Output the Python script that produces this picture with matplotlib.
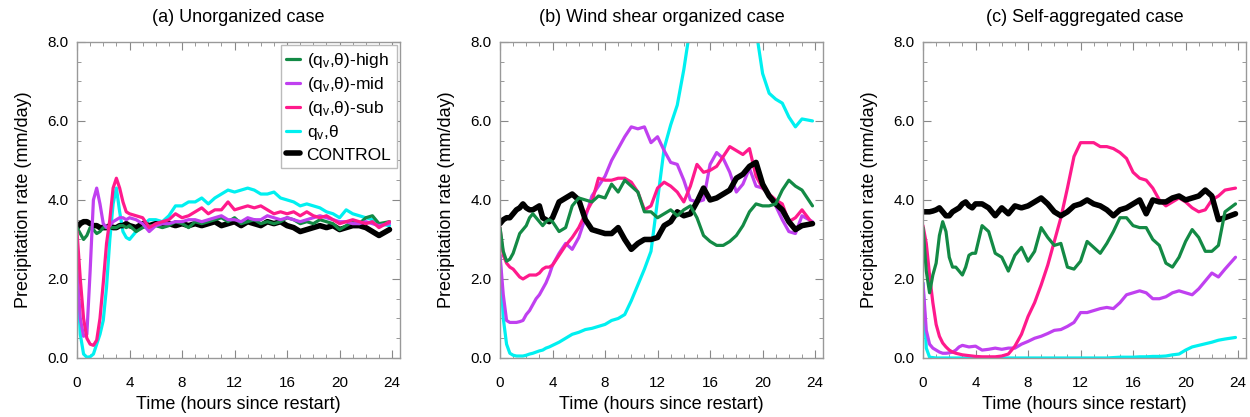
import numpy as np
import matplotlib
matplotlib.use("Agg")
import matplotlib.pyplot as plt
from matplotlib.ticker import MultipleLocator

plt.rcParams["font.family"] = ["Liberation Sans", "DejaVu Sans"]
plt.rcParams["mathtext.default"] = "regular"

# time axis (hours since restart): 15-min steps for the first 4 h, then 30 min
hours = [0.0, 0.25, 0.5, 0.75, 1.0, 1.25, 1.5, 1.75, 2.0, 2.25, 2.5, 2.75,
         3.0, 3.25, 3.5, 3.75, 4.0,
         4.5, 5.0, 5.5, 6.0, 6.5, 7.0, 7.5, 8.0, 8.5, 9.0, 9.5, 10.0, 10.5,
         11.0, 11.5, 12.0, 12.5, 13.0, 13.5, 14.0, 14.5, 15.0, 15.5, 16.0,
         16.5, 17.0, 17.5, 18.0, 18.5, 19.0, 19.5, 20.0, 20.5, 21.0, 21.5,
         22.0, 22.5, 23.0, 23.8]

# (a) unorganized
ctrl_a = [3.30, 3.40, 3.45, 3.45, 3.40, 3.35, 3.35, 3.30, 3.30, 3.30, 3.35,
          3.30, 3.30, 3.35, 3.35, 3.40, 3.35,
          3.30, 3.40, 3.35, 3.40, 3.35, 3.40, 3.35, 3.40, 3.35, 3.40,
          3.35, 3.40, 3.45, 3.35, 3.40, 3.45, 3.35, 3.45, 3.40, 3.35,
          3.45, 3.40, 3.45, 3.35, 3.30, 3.20, 3.25, 3.30, 3.35, 3.30,
          3.35, 3.25, 3.30, 3.35, 3.35, 3.30, 3.20, 3.10, 3.25]
high_a = [3.30, 3.15, 3.00, 3.10, 3.30, 3.25, 3.15, 3.20, 3.30, 3.30, 3.30,
          3.30, 3.30, 3.35, 3.35, 3.30, 3.35,
          3.20, 3.30, 3.35, 3.35, 3.30, 3.35, 3.45, 3.40, 3.30, 3.45,
          3.40, 3.45, 3.50, 3.55, 3.45, 3.55, 3.40, 3.45, 3.50, 3.40,
          3.45, 3.40, 3.45, 3.55, 3.50, 3.40, 3.45, 3.40, 3.50, 3.45,
          3.40, 3.25, 3.35, 3.45, 3.40, 3.55, 3.60, 3.40, 3.45]
mid_a = [2.20, 1.00, 0.55, 0.60, 2.20, 4.00, 4.30, 3.90, 3.40, 3.30, 3.35,
         3.45, 3.50, 3.55, 3.55, 3.50, 3.55,
         3.50, 3.40, 3.20, 3.35, 3.40, 3.40, 3.45, 3.45, 3.50, 3.50,
         3.45, 3.50, 3.55, 3.60, 3.50, 3.50, 3.45, 3.55, 3.50, 3.50,
         3.60, 3.55, 3.50, 3.55, 3.50, 3.45, 3.50, 3.55, 3.60, 3.55,
         3.50, 3.45, 3.45, 3.40, 3.40, 3.45, 3.40, 3.35, 3.40]
sub_a = [3.20, 2.00, 1.00, 0.50, 0.35, 0.32, 0.45, 1.00, 1.90, 2.90, 3.50,
         4.30, 4.55, 4.30, 3.95, 3.70, 3.65,
         3.60, 3.55, 3.30, 3.40, 3.45, 3.50, 3.65, 3.55, 3.60, 3.70,
         3.80, 3.65, 3.75, 3.75, 3.95, 3.75, 3.80, 3.85, 3.80, 3.85,
         3.75, 3.65, 3.70, 3.65, 3.70, 3.60, 3.70, 3.60, 3.55, 3.60,
         3.50, 3.40, 3.45, 3.50, 3.45, 3.40, 3.45, 3.30, 3.45]
full_a = [2.20, 0.60, 0.10, 0.02, 0.03, 0.10, 0.35, 0.60, 0.95, 1.80, 3.00,
          3.90, 4.30, 3.70, 3.20, 3.05, 3.00,
          3.20, 3.35, 3.50, 3.50, 3.45, 3.60, 3.85, 3.85, 3.95, 3.95,
          4.05, 3.90, 4.05, 4.15, 4.25, 4.20, 4.25, 4.30, 4.25, 4.15,
          4.15, 4.20, 4.05, 4.00, 3.95, 3.85, 3.90, 3.85, 3.80, 3.70,
          3.65, 3.55, 3.75, 3.65, 3.60, 3.55, 3.50, 3.40, 3.35]

# (b) wind shear organized
ctrl_b = [3.40, 3.50, 3.55, 3.55, 3.65, 3.75, 3.80, 3.90, 3.80, 3.75, 3.75,
          3.80, 3.85, 3.55, 3.50, 3.45, 3.55,
          3.95, 4.05, 4.15, 4.00, 3.50, 3.25, 3.20, 3.15, 3.15, 3.30,
          3.00, 2.75, 2.90, 3.00, 3.00, 3.05, 3.35, 3.45, 3.70, 3.60,
          3.65, 3.95, 4.30, 4.00, 4.05, 4.15, 4.25, 4.55, 4.65, 4.85,
          4.95, 4.40, 4.10, 3.90, 3.75, 3.45, 3.25, 3.35, 3.40]
high_b = [3.30, 2.70, 2.45, 2.50, 2.65, 2.90, 3.15, 3.25, 3.35, 3.55, 3.65,
          3.55, 3.45, 3.35, 3.45, 3.50, 3.45,
          3.20, 3.30, 3.85, 4.05, 4.00, 3.95, 4.10, 4.05, 4.40, 4.20,
          4.50, 4.35, 4.20, 3.70, 3.70, 3.55, 3.65, 3.75, 3.60, 3.75,
          3.85, 3.55, 3.10, 2.95, 2.85, 2.85, 2.95, 3.10, 3.35, 3.70,
          3.90, 3.85, 3.85, 3.90, 4.25, 4.50, 4.35, 4.25, 3.85]
mid_b = [2.60, 1.60, 0.95, 0.90, 0.90, 0.90, 0.92, 0.95, 1.10, 1.20, 1.35,
         1.50, 1.60, 1.75, 1.90, 2.10, 2.35,
         2.65, 2.90, 2.75, 3.05, 3.55, 4.10, 4.35, 4.60, 5.00, 5.30,
         5.60, 5.85, 5.80, 5.85, 5.45, 5.60, 5.25, 4.95, 4.90, 4.50,
         4.00, 3.95, 4.00, 4.90, 5.20, 5.05, 4.70, 4.20, 4.40, 4.80,
         4.35, 4.30, 4.15, 3.85, 3.50, 3.20, 3.15, 3.60, 3.45]
sub_b = [3.30, 2.60, 2.40, 2.30, 2.25, 2.15, 2.05, 2.00, 2.05, 2.10, 2.10,
         2.10, 2.15, 2.25, 2.30, 2.30, 2.35,
         2.60, 2.85, 3.05, 3.30, 3.65, 3.95, 4.55, 4.50, 4.50, 4.55,
         4.55, 4.45, 4.20, 3.75, 3.85, 4.30, 4.45, 4.35, 4.20, 3.95,
         4.35, 4.90, 4.70, 4.75, 4.85, 5.10, 5.35, 5.25, 5.15, 5.30,
         4.60, 4.30, 4.15, 4.00, 3.90, 3.45, 3.55, 3.75, 3.40]
full_b = [2.60, 1.00, 0.35, 0.12, 0.07, 0.05, 0.05, 0.05, 0.07, 0.10, 0.12,
          0.15, 0.18, 0.20, 0.25, 0.28, 0.32,
          0.40, 0.50, 0.60, 0.65, 0.72, 0.75, 0.80, 0.85, 0.95, 1.00,
          1.10, 1.45, 1.85, 2.25, 2.70, 4.00, 5.30, 5.90, 6.40, 7.30,
          8.40, 9.50, 10.00, 10.20, 10.20, 10.00, 9.80, 9.50, 9.00, 8.60,
          8.30, 7.20, 6.70, 6.55, 6.45, 6.10, 5.85, 6.05, 6.00]

# (c) self-aggregated
ctrl_c = [3.70, 3.70, 3.70, 3.72, 3.75, 3.80, 3.70, 3.60, 3.60, 3.70, 3.75,
          3.80, 3.90, 3.95, 3.85, 3.80, 3.90,
          3.90, 3.80, 3.60, 3.80, 3.65, 3.85, 3.80, 3.85, 3.95, 4.05,
          3.90, 3.70, 3.60, 3.70, 3.85, 3.90, 4.00, 3.90, 3.85, 3.75,
          3.60, 3.75, 3.80, 3.90, 4.00, 3.65, 4.00, 3.95, 3.95, 4.05,
          4.10, 4.00, 4.05, 4.10, 4.25, 4.10, 3.50, 3.55, 3.65]
high_c = [3.30, 2.20, 1.65, 2.10, 2.40, 3.10, 3.45, 3.20, 2.55, 2.30, 2.30,
          2.20, 2.10, 2.30, 2.60, 2.65, 2.65,
          3.35, 3.20, 2.65, 2.55, 2.20, 2.60, 2.80, 2.45, 2.70, 3.30,
          3.05, 2.85, 2.90, 2.30, 2.25, 2.45, 2.95, 2.80, 2.65, 2.90,
          3.20, 3.55, 3.55, 3.35, 3.30, 3.30, 3.00, 2.85, 2.40, 2.30,
          2.55, 2.95, 3.25, 3.05, 2.70, 2.70, 2.85, 3.70, 3.90]
mid_c = [1.90, 0.70, 0.35, 0.25, 0.20, 0.15, 0.12, 0.12, 0.13, 0.15, 0.20,
         0.28, 0.32, 0.30, 0.28, 0.29, 0.30,
         0.20, 0.22, 0.25, 0.22, 0.25, 0.25, 0.35, 0.42, 0.50, 0.55,
         0.62, 0.70, 0.72, 0.80, 0.90, 1.15, 1.15, 1.20, 1.25, 1.28,
         1.25, 1.40, 1.60, 1.65, 1.70, 1.65, 1.50, 1.50, 1.55, 1.65,
         1.70, 1.65, 1.60, 1.75, 1.95, 2.15, 2.05, 2.25, 2.55]
sub_c = [3.35, 2.90, 2.10, 1.40, 0.85, 0.55, 0.38, 0.28, 0.20, 0.15, 0.12,
         0.10, 0.08, 0.07, 0.06, 0.05, 0.04,
         0.03, 0.03, 0.03, 0.05, 0.10, 0.30, 0.60, 1.05, 1.40, 1.85,
         2.35, 2.95, 3.55, 4.30, 5.10, 5.45, 5.45, 5.45, 5.35, 5.35,
         5.30, 5.20, 5.05, 4.70, 4.55, 4.50, 4.30, 4.00, 3.85, 3.95,
         4.05, 3.95, 3.80, 3.70, 3.75, 4.00, 4.10, 4.25, 4.30]
full_c = [1.90, 0.25, 0.02, 0.01, 0.00, 0.00, 0.00, 0.00, 0.00, 0.00, 0.00,
          0.00, 0.00, 0.00, 0.00, 0.00, 0.00,
          0.00, 0.00, 0.00, 0.00, 0.00, 0.00, 0.00, 0.00, 0.00, 0.00,
          0.00, 0.00, 0.00, 0.00, 0.00, 0.00, 0.00, 0.00, 0.00, 0.00,
          0.01, 0.02, 0.02, 0.02, 0.03, 0.03, 0.04, 0.04, 0.05, 0.08,
          0.10, 0.20, 0.28, 0.32, 0.36, 0.40, 0.45, 0.48, 0.52]

titles = ["(a) Unorganized case", "(b) Wind shear organized case",
          "(c) Self-aggregated case"]
labels = [r"(q$_{v}$,θ)-high", r"(q$_{v}$,θ)-mid", r"(q$_{v}$,θ)-sub",
          r"q$_{v}$,θ", "CONTROL"]
colors = ["#138a45", "#c040f0", "#ff1a8c", "#00f0f0", "black"]
widths = [2.3, 2.3, 2.3, 2.3, 4.0]

panels = [(high_a, mid_a, sub_a, full_a, ctrl_a),
          (high_b, mid_b, sub_b, full_b, ctrl_b),
          (high_c, mid_c, sub_c, full_c, ctrl_c)]

fig = plt.figure(figsize=(12.5, 4.17), dpi=100)
lefts = [0.0616, 0.400, 0.7384]
for k, (left, series) in enumerate(zip(lefts, panels)):
    ax = fig.add_axes([left, 0.1415, 0.2584, 0.758])
    order = [3, 4, 0, 1, 2] if k == 0 else [3, 1, 2, 4, 0]
    handles = {}
    for i in order:
        handles[i], = ax.plot(hours, series[i], color=colors[i],
                              lw=widths[i], solid_capstyle="round",
                              label=labels[i])
    ax.set_xlim(0, 24.6)
    ax.set_ylim(0, 8)
    ax.xaxis.set_major_locator(MultipleLocator(4))
    ax.xaxis.set_minor_locator(MultipleLocator(1))
    ax.yaxis.set_major_locator(MultipleLocator(2))
    ax.yaxis.set_minor_locator(MultipleLocator(0.5))
    ax.yaxis.set_major_formatter(lambda v, p: f"{v:.1f}")
    ax.tick_params(which="both", direction="in", top=True, right=True,
                   color="#888888", labelsize=11)
    ax.tick_params(which="major", length=6)
    ax.tick_params(axis="y", which="major", pad=6)
    ax.tick_params(axis="x", which="major", pad=13)
    ax.tick_params(which="minor", length=3)
    for sp in ax.spines.values():
        sp.set_color("#999999")
        sp.set_linewidth(1.0)
    ax.set_title(titles[k], fontsize=13, pad=14)
    ax.set_xlabel("Time (hours since restart)", fontsize=13, labelpad=4)
    ax.set_ylabel("Precipitation rate (mm/day)", fontsize=13, labelpad=11)
    if k == 0:
        leg = ax.legend([handles[i] for i in range(5)], labels,
                        loc="upper right", fontsize=12.5, handlelength=0.8,
                        handletextpad=0.4, labelspacing=0.3,
                        borderaxespad=0.2, borderpad=0.3, fancybox=False,
                        framealpha=1)
        leg.get_frame().set_edgecolor("#bbbbbb")

fig.savefig("out.png", dpi=100)
